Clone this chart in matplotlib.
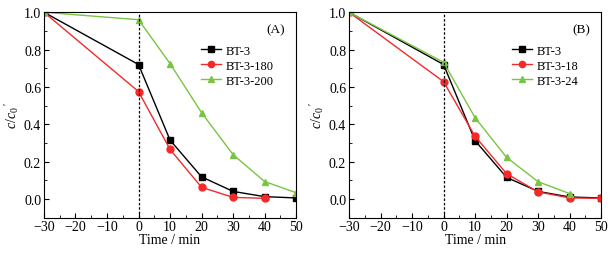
import numpy as np
import matplotlib
matplotlib.use("Agg")
import matplotlib.pyplot as plt
from matplotlib.ticker import MultipleLocator

plt.rcParams["font.family"] = ["Liberation Serif", "DejaVu Serif"]
plt.rcParams["mathtext.fontset"] = "custom"
plt.rcParams["mathtext.rm"] = "Liberation Serif"
plt.rcParams["mathtext.it"] = "Liberation Serif:italic"

# data
time = [-30, 0, 10, 20, 30, 40, 50]

a_bt3 = [1.0, 0.72, 0.315, 0.118, 0.04, 0.012, 0.005]
a_bt3_180 = [1.0, 0.575, 0.265, 0.062, 0.008, 0.003]
a_bt3_200 = [1.0, 0.96, 0.725, 0.462, 0.237, 0.093, 0.033]

b_bt3 = [1.0, 0.72, 0.312, 0.115, 0.04, 0.01, 0.005]
b_bt3_18 = [1.0, 0.628, 0.335, 0.135, 0.037, 0.005, 0.003]
b_bt3_24 = [1.0, 0.732, 0.435, 0.222, 0.092, 0.028]

black = "#000000"
red = "#f42a2a"
green = "#79c443"


def style_axes(ax, tag):
    ax.set_xlim(-30, 50)
    ax.set_ylim(-0.1, 1.0)
    ax.xaxis.set_minor_locator(MultipleLocator(5))
    ax.yaxis.set_minor_locator(MultipleLocator(0.1))
    ax.set_xticks(range(-30, 51, 10))
    ax.set_xticklabels(["\u221230", "\u221220", "\u221210", "0", "10", "20", "30", "40", "50"])
    ax.set_yticks([0.0, 0.2, 0.4, 0.6, 0.8, 1.0])
    ax.set_yticklabels(["0.0", "0.2", "0.4", "0.6", "0.8", "1.0"])
    ax.tick_params(which="major", direction="in", length=3.5, width=0.8,
                   labelsize=10, top=False, right=False, pad=2)
    ax.tick_params(which="minor", direction="in", length=2, width=0.6,
                   top=False, right=False)
    for s in ax.spines.values():
        s.set_linewidth(0.8)
    ax.axvline(0, color="black", linestyle=(0, (2, 1.5)), linewidth=0.9)
    ax.set_xlabel("Time / min", fontsize=10, labelpad=0)
    ax.set_ylabel(r"$c/c_0\,'$", fontsize=10, labelpad=2)
    ax.text(0.955, 0.915, tag, transform=ax.transAxes, ha="right", va="center", fontsize=9.5)
    ax.legend(loc="upper right", bbox_to_anchor=(0.945, 0.885), frameon=False,
              fontsize=9, handlelength=1.6, handletextpad=0.35,
              labelspacing=0.25, borderpad=0.2, markerscale=0.9)


fig = plt.figure(figsize=(6.15, 2.55), dpi=100)
ax1 = fig.add_axes([0.0715, 0.143, 0.41, 0.805])
ax2 = fig.add_axes([0.5675, 0.143, 0.41, 0.805])

kw = dict(linewidth=1.0, markersize=5)
ax1.plot(time, a_bt3, color=black, marker="s", label="BT-3", **kw)
ax1.plot(time[:len(a_bt3_180)], a_bt3_180, color=red, marker="o", label="BT-3-180", **kw)
ax1.plot(time, a_bt3_200, color=green, marker="^", label="BT-3-200", **kw)
style_axes(ax1, "(A)")

ax2.plot(time, b_bt3, color=black, marker="s", label="BT-3", **kw)
ax2.plot(time, b_bt3_18, color=red, marker="o", label="BT-3-18", **kw)
ax2.plot(time[:len(b_bt3_24)], b_bt3_24, color=green, marker="^", label="BT-3-24", **kw)
style_axes(ax2, "(B)")

fig.savefig("out.png", dpi=100)
